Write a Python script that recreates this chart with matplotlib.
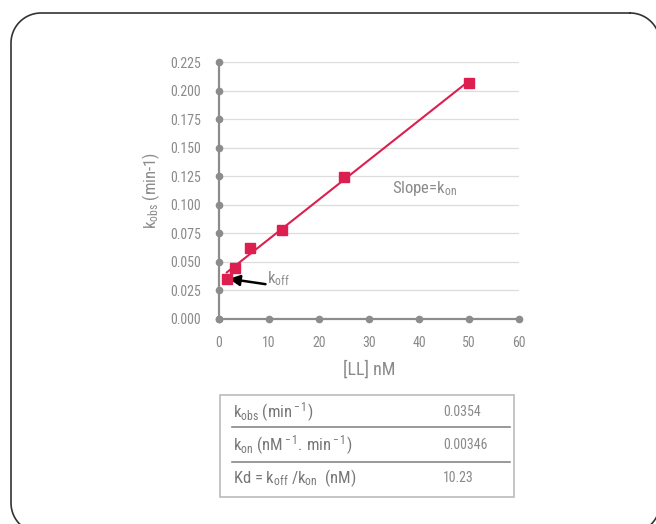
import matplotlib
matplotlib.use("Agg")
import matplotlib.pyplot as plt
from matplotlib import font_manager
import numpy as np
from matplotlib.patches import Rectangle

# data
conc = [1.5625, 3.125, 6.25, 12.5, 25, 50]
kobs = [0.0354, 0.0445, 0.062, 0.078, 0.124, 0.207]
koff = 0.0354
kon = 0.00346
xticks = [0, 10, 20, 30, 40, 50, 60]
yticks = [0.000, 0.025, 0.050, 0.075, 0.100, 0.125, 0.150, 0.175, 0.200, 0.225]

table_labels = [r"k$_{\rm obs}$ (min$^{\rm -1}$)",
                r"k$_{\rm on}$ (nM$^{\rm -1}$. min$^{\rm -1}$)",
                r"Kd = k$_{\rm off}$ /k$_{\rm on}$  (nM)"]
table_values = ["0.0354", "0.00346", "10.23"]

# pick a narrow face if one is installed
installed = set(f.name for f in font_manager.fontManager.ttflist)
main_font = 'DejaVu Sans'
for name in ['Liberation Sans Narrow', 'Roboto Condensed', 'Open Sans Condensed', 'Roboto']:
    if name in installed:
        main_font = name
        break

plt.rcParams['font.family'] = [main_font, 'DejaVu Sans']
plt.rcParams['mathtext.fontset'] = 'custom'
plt.rcParams['mathtext.rm'] = main_font
plt.rcParams['mathtext.it'] = main_font

red = '#dc1f4f'
axis_grey = '#8c8c8c'
text_grey = '#8a8a8a'

fig = plt.figure(figsize=(6.56, 5.24), dpi=100)

# pixel-space layer (y measured from the top of the image)
H = 524
bg = fig.add_axes([0, 0, 1, 1])
bg.set_xlim(0, 656)
bg.set_ylim(H, 0)
bg.axis('off')

# rounded frame, running off the right and bottom edges like the original
x0, y0, x1, y1, r = 11, 13, 660, 533, 30
fx, fy = [], []
for cx, cy, a0 in [(x1 - r, y0 + r, -90), (x1 - r, y1 - r, 0),
                   (x0 + r, y1 - r, 90), (x0 + r, y0 + r, 180)]:
    t = np.radians(np.linspace(a0, a0 + 90, 20))
    fx.extend(cx + r * np.cos(t))
    fy.extend(cy + r * np.sin(t))
fx.append(fx[0])
fy.append(fy[0])
bg.plot(fx, fy, color='#333333', linewidth=1.2, clip_on=False)

# parameter table below the chart
bg.add_patch(Rectangle((220, 395), 294, 102, fill=False, edgecolor='#bbbbbb', linewidth=1.2))
for yy in [427, 462]:
    bg.plot([232, 510], [yy, yy], color='#888888', linewidth=1.2)
for i, yy in enumerate([412, 445, 478]):
    bg.text(233, yy, table_labels[i], fontsize=12, color='#777777', va='center')
    bg.text(443, yy, table_values[i], fontsize=10, color=text_grey, va='center')

ax = fig.add_axes([219 / 656, (H - 319) / H, 300 / 656, 257 / H])
ax.set_xlim(0, 60)
ax.set_ylim(0, 0.225)
ax.patch.set_alpha(0)

for y in yticks[1:]:
    ax.axhline(y, color='#dddddd', linewidth=0.9, zorder=0)

for s in ['top', 'right']:
    ax.spines[s].set_visible(False)
for s in ['left', 'bottom']:
    ax.spines[s].set_color(axis_grey)
    ax.spines[s].set_linewidth(1.6)

ax.plot(np.zeros(len(yticks)), yticks, 'o', color=axis_grey, ms=4.5, clip_on=False, zorder=3)
ax.plot(xticks, np.zeros(len(xticks)), 'o', color=axis_grey, ms=4.5, clip_on=False, zorder=3)

ax.set_xticks(xticks)
ax.set_yticks(yticks)
ax.set_yticklabels(["%.3f" % v for v in yticks])
ax.tick_params(length=0, labelsize=10, colors=text_grey, pad=12)
ax.tick_params(axis='y', pad=13)

# fit line and points
xfit = np.array([conc[0], conc[-1]])
ax.plot(xfit, koff + kon * xfit, color=red, linewidth=1.5, zorder=4)
ax.plot(conc, kobs, 's', color=red, ms=6.5, zorder=5, clip_on=False)

ax.annotate("", xy=(2.0, 0.0352), xytext=(9.3, 0.0305),
            arrowprops=dict(arrowstyle='-|>', color='black', lw=1.8,
                            mutation_scale=16, shrinkA=0, shrinkB=0))
ax.text(9.6, 0.0355, r"k$_{\rm off}$", fontsize=12, color=text_grey, va='center')
ax.text(34.5, 0.114, r"Slope=k$_{\rm on}$", fontsize=12, color=text_grey, va='center')

ax.set_xlabel("[LL] nM", fontsize=13, color=text_grey, labelpad=8)
ax.set_ylabel(r"k$_{\rm obs}$ (min-1)", fontsize=12, color=text_grey, labelpad=6)

fig.savefig("out.png", dpi=100)
